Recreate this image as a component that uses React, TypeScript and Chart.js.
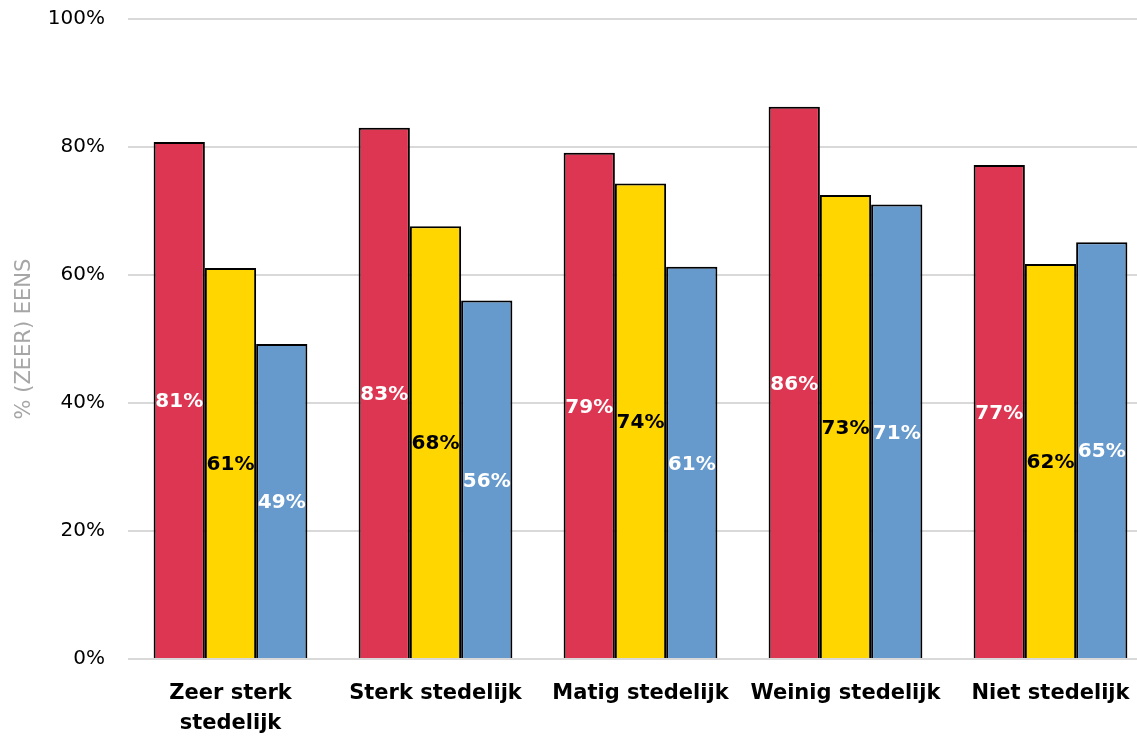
import React, { useEffect, useRef } from "react";
import { Chart, registerables } from "chart.js";

Chart.register(...registerables);

const categories: (string | string[])[] = [
  ["Zeer sterk", "stedelijk"],
  "Sterk stedelijk",
  "Matig stedelijk",
  "Weinig stedelijk",
  "Niet stedelijk",
];
const seriesRed = [80.8, 83.0, 79.1, 86.3, 77.2];
const seriesYellow = [61.1, 67.6, 74.3, 72.5, 61.7];
const seriesBlue = [49.2, 56.0, 61.3, 71.0, 65.1];
const yTicks = [0, 20, 40, 60, 80, 100];
const yTitle = "% (ZEER) EENS";

const FONT = "'DejaVu Sans', sans-serif";

const labelColors = ["#ffffff", "#000000", "#ffffff"];

const valueLabels = {
  id: "valueLabels",
  afterDatasetsDraw(chart: any) {
    const ctx = chart.ctx;
    ctx.save();
    ctx.font = `bold 20px ${FONT}`;
    ctx.textAlign = "center";
    ctx.textBaseline = "middle";
    chart.data.datasets.forEach((ds: any, di: number) => {
      const meta = chart.getDatasetMeta(di);
      meta.data.forEach((bar: any, i: number) => {
        const v = ds.data[i];
        const y = (bar.y + bar.base) / 2;
        ctx.fillStyle = labelColors[di];
        ctx.fillText(`${Math.round(v)}%`, bar.x, y + 2);
      });
    });
    ctx.restore();
  },
};

export default function App() {
  const ref = useRef<HTMLCanvasElement>(null);
  useEffect(() => {
    const chart = new Chart(ref.current!, {
      type: "bar",
      data: {
        labels: categories,
        datasets: [
          { data: seriesRed, backgroundColor: "#DC3652" },
          { data: seriesYellow, backgroundColor: "#FFD600" },
          { data: seriesBlue, backgroundColor: "#6699CC" },
        ].map((d) => ({
          ...d,
          borderColor: "#000000",
          borderWidth: 2,
          categoryPercentage: 0.75,
          barPercentage: 1,
        })),
      },
      options: {
        animation: false,
        responsive: false,
        maintainAspectRatio: false,
        layout: { padding: { top: 2, left: 0, right: 0, bottom: 0 } },
        plugins: { legend: { display: false }, tooltip: { enabled: false } },
        scales: {
          x: {
            grid: { display: false, drawTicks: false },
            border: { display: false },
            ticks: {
              color: "#000000",
              font: { family: FONT, size: 21, weight: "bold", lineHeight: 1.45 },
              padding: 19,
              maxRotation: 0,
              autoSkip: false,
            },
            afterFit(scale: any) {
              scale.height = 82;
            },
          },
          y: {
            min: 0,
            max: 100,
            afterBuildTicks(scale: any) {
              scale.ticks = yTicks.map((v) => ({ value: v }));
            },
            grid: { color: "#d9d9d9", lineWidth: 2, drawTicks: false },
            border: { display: false },
            ticks: {
              color: "#000000",
              font: { family: FONT, size: 20 },
              padding: 23,
              callback: (v: any) => `${v}%`,
            },
            title: {
              display: true,
              text: yTitle,
              color: "#a6a6a6",
              font: { family: FONT, size: 21 },
              padding: { top: 12, bottom: 0 },
            },
            afterFit(scale: any) {
              scale.width = 128;
            },
          },
        },
      },
      plugins: [valueLabels],
    });
    return () => chart.destroy();
  }, []);
  return (
    <div
      style={{
        position: "fixed",
        left: 0,
        top: 0,
        width: 1137,
        height: 741,
        overflow: "hidden",
        background: "#ffffff",
      }}
    >
      <canvas
        ref={ref}
        width={1153}
        height={757}
        style={{ display: "block", marginTop: -16 }}
      />
    </div>
  );
}
